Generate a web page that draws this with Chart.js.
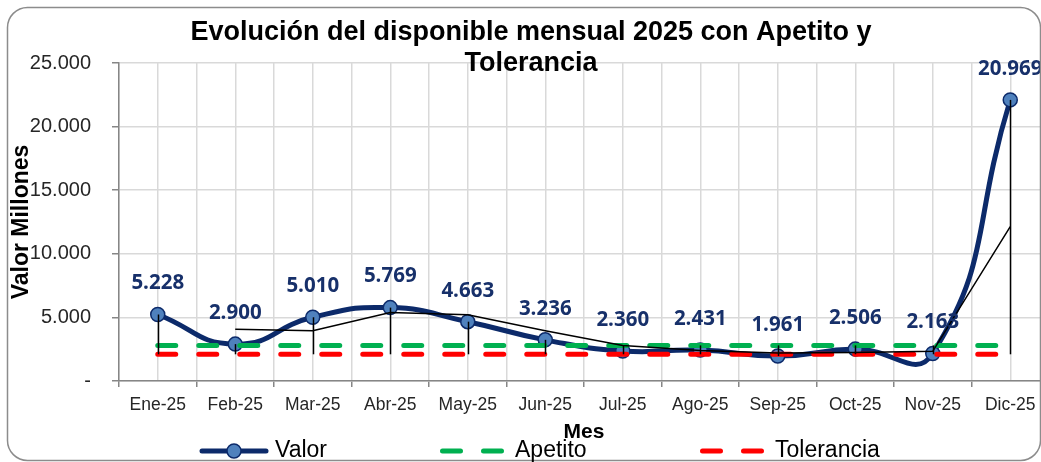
<!DOCTYPE html>
<html><head><meta charset="utf-8">
<script src="https://cdn.jsdelivr.net/npm/chart.js@4"></script>
<style>
html,body{margin:0;padding:0;overflow:hidden;background:#fff;width:1041px;height:462px}
#wrap{position:absolute;left:0;top:0;width:1060px;height:462px}
</style>
</head><body><div id="wrap"><canvas id="c" width="1060" height="462"></canvas></div>
<script>
const categorias = ['Ene-25','Feb-25','Mar-25','Abr-25','May-25','Jun-25','Jul-25','Ago-25','Sep-25','Oct-25','Nov-25','Dic-25'];
const valor = [5228, 2900, 5010, 5769, 4663, 3236, 2360, 2431, 1961, 2506, 2163, 22100];
const etiquetasValor = ['5.228','2.900','5.010','5.769','4.663','3.236','2.360','2.431','1.961','2.506','2.163','20.969'];
const apetito = [2800, 2800, 2800, 2800, 2800, 2800, 2800, 2800, 2800, 2800, 2800, 2800];
const tolerancia = [2100, 2100, 2100, 2100, 2100, 2100, 2100, 2100, 2100, 2100, 2100, 2100];
const tendencia = [null, 4064, 3955, 5390, 5216, 3950, 2798, 2396, 2196, 2234, 2335, 12130];
const yTicks = [0, 5000, 10000, 15000, 20000, 25000];
const yTickLabels = ['-', '5.000', '10.000', '15.000', '20.000', '25.000'];
const titulo = ['Evolución del disponible mensual 2025 con Apetito y', 'Tolerancia'];

const NAVY = '#0C2A6A';
const MARK = '#4F81BD';
const LABEL = '#17306A';
const FONT = '"Liberation Sans", Arial, sans-serif';
const toXY = arr => arr.map((v, i) => ({x: i, y: v}));

const decor = {
  id: 'decor',
  beforeDraw(chart) {
    const c = chart.ctx;
    c.save(); c.fillStyle = '#fff'; c.fillRect(0, 0, chart.width, chart.height); c.restore();
  },
  afterDatasetsDraw(chart) {
    const c = chart.ctx, xs = chart.scales.x, ys = chart.scales.y;
    c.save();
    c.strokeStyle = '#000'; c.lineWidth = 1.5;
    for (let i = 0; i < categorias.length; i++) {
      const vals = [valor[i], apetito[i], tolerancia[i]];
      const hi = Math.max(...vals), lo = Math.min(...vals);
      const x = Math.round(xs.getPixelForValue(i)) + 0.5;
      c.beginPath(); c.moveTo(x, ys.getPixelForValue(hi)); c.lineTo(x, ys.getPixelForValue(lo)); c.stroke();
    }
    c.restore();
  },
  afterDraw(chart) {
    const c = chart.ctx;
    const meta = chart.getDatasetMeta(0);
    c.save();
    // data labels
    c.font = 'bold 20.5px "Open Sans", ' + FONT;
    c.fillStyle = LABEL; c.textAlign = 'center'; c.textBaseline = 'middle';
    meta.data.forEach((pt, i) => { c.fillText(etiquetasValor[i], pt.x, pt.y - 31); });
    // title
    c.font = 'bold 27px ' + FONT; c.fillStyle = '#000';
    c.fillText(titulo[0], 531, 33);
    c.fillText(titulo[1], 531, 64);
    // frame
    c.strokeStyle = '#8c8c8c'; c.lineWidth = 1.5;
    c.beginPath(); c.roundRect(7.5, 7.5, 1033, 453, 20); c.stroke();
    // legend
    const ds = chart.data.datasets;
    const ly = 451;
    c.font = '23px ' + FONT; c.textAlign = 'left'; c.fillStyle = '#000';
    // Valor
    c.lineCap = 'round'; c.lineWidth = ds[0].borderWidth; c.strokeStyle = ds[0].borderColor;
    c.beginPath(); c.moveTo(202, ly); c.lineTo(266, ly); c.stroke();
    c.beginPath(); c.arc(234, ly, 7, 0, Math.PI * 2); c.fillStyle = ds[0].pointBackgroundColor; c.fill();
    c.lineWidth = ds[0].pointBorderWidth; c.stroke();
    c.fillStyle = '#000'; c.fillText(ds[0].label, 275, ly);
    // Apetito & Tolerancia
    [[1, 442.5, 515], [2, 702.5, 775]].forEach(([k, x0, tx]) => {
      c.save();
      c.lineCap = 'round'; c.lineWidth = ds[k].borderWidth; c.strokeStyle = ds[k].borderColor;
      c.setLineDash(ds[k].borderDash);
      c.beginPath(); c.moveTo(x0, ly); c.lineTo(x0 + 59, ly); c.stroke();
      c.restore();
      c.fillStyle = '#000'; c.fillText(ds[k].label, tx, ly);
    });
    c.restore();
  }
};

new Chart(document.getElementById('c'), {
  type: 'line',
  data: {
    datasets: [
      {label: 'Valor', data: toXY(valor), borderColor: NAVY, borderWidth: 5, tension: 0.5,
       pointRadius: 7, pointBackgroundColor: MARK, pointBorderColor: NAVY, pointBorderWidth: 1.5, order: 3},
      {label: 'Apetito', data: toXY(apetito), borderColor: '#00B050', borderWidth: 5, borderDash: [18, 23],
       borderCapStyle: 'round', pointRadius: 0, order: 2},
      {label: 'Tolerancia', data: toXY(tolerancia), borderColor: '#FF0000', borderWidth: 5, borderDash: [18, 23],
       borderCapStyle: 'round', pointRadius: 0, order: 1},
      {label: 'Tendencia', data: toXY(tendencia), borderColor: '#000', borderWidth: 1.5, pointRadius: 0,
       tension: 0, order: 0}
    ]
  },
  options: {
    responsive: false, animation: false,
    layout: {padding: {top: 63, left: 0, right: 11, bottom: 0}},
    plugins: {legend: {display: false}, tooltip: {enabled: false}, title: {display: false}},
    scales: {
      x: {
        type: 'linear', min: -0.5, max: 11.5,
        afterBuildTicks(s) { const t = []; for (let k = 0; k <= 24; k++) t.push({value: -0.5 + k * 0.5}); s.ticks = t; },
        afterFit(s) { s.height = 81; },
        ticks: {autoSkip: false, maxRotation: 0, padding: 8, color: '#262626',
          font: {family: FONT, size: 17.5},
          callback: v => Number.isInteger(v) ? categorias[v] : ''},
        grid: {color: '#d9d9d9', lineWidth: 1.5, tickLength: 6,
          tickColor: ctx => (ctx.tick && Number.isInteger(ctx.tick.value)) ? 'rgba(0,0,0,0)' : '#868686'},
        border: {color: '#868686', width: 1.5},
        title: {display: true, text: 'Mes', color: '#000', font: {family: FONT, size: 21, weight: 'bold'},
          padding: {top: 0, bottom: 17}}
      },
      y: {
        min: 0, max: 25000,
        afterBuildTicks(s) { s.ticks = yTicks.map(v => ({value: v})); },
        afterFit(s) { s.width = 119; },
        ticks: {padding: 21, color: '#262626', font: {family: FONT, size: 20},
          callback: v => yTickLabels[yTicks.indexOf(v)]},
        grid: {color: '#d9d9d9', lineWidth: 1.5, tickLength: 7, tickColor: '#868686'},
        border: {color: '#868686', width: 1.5},
        title: {display: true, text: 'Valor Millones', color: '#000', font: {family: FONT, size: 23, weight: 'bold'},
          padding: {top: 8, bottom: 0}}
      }
    }
  },
  plugins: [decor]
});
</script>
</body></html>
